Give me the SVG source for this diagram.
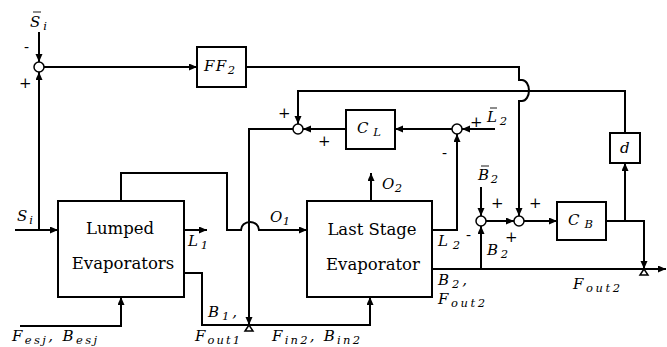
<svg xmlns="http://www.w3.org/2000/svg" width="667" height="347" viewBox="0 0 667 347" font-family="'DejaVu Serif','Liberation Serif',serif">
<defs>
<style>
.ln{fill:none;stroke:#000;stroke-width:2}
.bx{fill:#fff;stroke:#000;stroke-width:2}
.sj{fill:#fff;stroke:#000;stroke-width:1.5}
.vl{fill:#fff;stroke:#000;stroke-width:1.5}
.br{stroke:#000;stroke-width:0.9}
text{font-family:'DejaVu Serif','Liberation Serif',serif;fill:#000}
.m{font-style:italic;font-size:15px}
.s{font-size:11.5px}
.t{font-size:16.5px;text-anchor:middle}
.p{font-size:15px}
</style>
<marker id="ar" markerUnits="userSpaceOnUse" markerWidth="9" markerHeight="8" refX="8" refY="3.5" orient="auto">
<path d="M0,0 L8,3.5 L0,7 z" fill="#000"/>
</marker>
</defs>
<g id="connectors">
<path class="ln" d="M39,32 V62" marker-end="url(#ar)"/>
<path class="ln" d="M15,230 H58" marker-end="url(#ar)"/>
<path class="ln" d="M39,230 V72" marker-end="url(#ar)"/>
<path class="ln" d="M44,67 H197" marker-end="url(#ar)"/>
<path class="ln" d="M246,67 H519 V80 H522 A7 10.5 0 0 1 522 101 H519 V216" marker-end="url(#ar)"/>
<path class="ln" d="M625,133 V91 H298 V124" marker-end="url(#ar)"/>
<path class="ln" d="M625,221 V163" marker-end="url(#ar)"/>
<path class="ln" d="M495,129 H462" marker-end="url(#ar)"/>
<path class="ln" d="M452,129 H395" marker-end="url(#ar)"/>
<path class="ln" d="M346,129 H303" marker-end="url(#ar)"/>
<path class="ln" d="M293,129 H249 V325" marker-end="url(#ar)"/>
<path class="ln" d="M432,230 H457 V134" marker-end="url(#ar)"/>
<path class="ln" d="M481,187 V216" marker-end="url(#ar)"/>
<path class="ln" d="M486,221 H514" marker-end="url(#ar)"/>
<path class="ln" d="M524,221 H557" marker-end="url(#ar)"/>
<path class="ln" d="M606,221 H644 V269" marker-end="url(#ar)"/>
<path class="ln" d="M432,269 H666" marker-end="url(#ar)"/>
<path class="ln" d="M481,269 V226" marker-end="url(#ar)"/>
<path class="ln" d="M121,201 V173 H227 V230 H241 A9 8 0 0 1 259 230 H307" marker-end="url(#ar)"/>
<path class="ln" d="M184,230 H207" marker-end="url(#ar)"/>
<path class="ln" d="M184,273 H202 V325 H370 V297" marker-end="url(#ar)"/>
<path class="ln" d="M20,326 H121 V297" marker-end="url(#ar)"/>
<path class="ln" d="M371,201 V173" marker-end="url(#ar)"/>
</g>
<g id="sum1"><circle class="sj" cx="39" cy="67" r="5"/></g>
<g id="sumL"><circle class="sj" cx="298" cy="129" r="5"/></g>
<g id="sumL2"><circle class="sj" cx="457" cy="129" r="5"/></g>
<g id="sumB2"><circle class="sj" cx="481" cy="221" r="5"/></g>
<g id="sumB"><circle class="sj" cx="519" cy="221" r="5"/></g>
<g id="valve1"><path class="vl" d="M249,325 L245,331 H253 Z"/></g>
<g id="valve2"><path class="vl" d="M644,269 L640,275 H648 Z"/></g>
<g id="FF2"><rect class="bx" x="197" y="47" width="49" height="40"/><text class="m" x="204" y="71" textLength="31" lengthAdjust="spacing">FF<tspan class="s" dy="3">2</tspan></text></g>
<g id="CL"><rect class="bx" x="346" y="110" width="49" height="39"/><text class="m" x="357" y="133" textLength="24" lengthAdjust="spacing">C<tspan class="s" dy="3">L</tspan></text></g>
<g id="CB"><rect class="bx" x="557" y="202" width="49" height="38"/><text class="m" x="568" y="225" textLength="25" lengthAdjust="spacing">C<tspan class="s" dy="3">B</tspan></text></g>
<g id="d"><rect class="bx" x="610" y="133" width="30" height="30"/><text class="m" x="620" y="153">d</text></g>
<g id="lumped"><rect class="bx" x="58" y="201" width="126" height="96"/><text class="t" x="120" y="234">Lumped</text><text class="t" x="123" y="269">Evaporators</text></g>
<g id="last"><rect class="bx" x="307" y="201" width="125" height="96"/><text class="t" x="372" y="235">Last Stage</text><text class="t" x="373" y="270">Evaporator</text></g>
<g id="labels">
<text class="m" x="30" y="27" textLength="17" lengthAdjust="spacing">S<tspan class="s" dy="3">i</tspan></text>
<line class="br" x1="33" y1="12" x2="41" y2="12"/>
<text class="p" x="24" y="52">-</text>
<text class="p" x="19" y="88">+</text>
<text class="m" x="17" y="221" textLength="16" lengthAdjust="spacing">S<tspan class="s" dy="3">i</tspan></text>
<text class="m" x="188" y="246" textLength="20" lengthAdjust="spacing">L<tspan class="s" dy="3">1</tspan></text>
<text class="m" x="270" y="222" textLength="20" lengthAdjust="spacing">O<tspan class="s" dy="3">1</tspan></text>
<text class="m" x="382" y="189" textLength="20" lengthAdjust="spacing">O<tspan class="s" dy="3">2</tspan></text>
<text class="m" x="438" y="246" textLength="22" lengthAdjust="spacing">L<tspan class="s" dy="3">2</tspan></text>
<text class="m" x="438" y="285" textLength="29" lengthAdjust="spacing">B<tspan class="s" dy="3">2</tspan><tspan dy="-3">,</tspan></text>
<text class="m" x="438" y="304" textLength="47" lengthAdjust="spacing">F<tspan class="s" dy="3">out2</tspan></text>
<text class="m" x="573" y="289" textLength="47" lengthAdjust="spacing">F<tspan class="s" dy="3">out2</tspan></text>
<text class="m" x="487" y="255" textLength="21" lengthAdjust="spacing">B<tspan class="s" dy="3">2</tspan></text>
<text class="p" x="466" y="240">-</text>
<text class="p" x="505" y="242">+</text>
<text class="m" x="478" y="180" textLength="20" lengthAdjust="spacing">B<tspan class="s" dy="3">2</tspan></text>
<line class="br" x1="481" y1="166" x2="489" y2="166"/>
<text class="p" x="491" y="208">+</text>
<text class="p" x="529" y="208">+</text>
<text class="p" x="470" y="127">+</text>
<text class="m" x="487" y="122" textLength="20" lengthAdjust="spacing">L<tspan class="s" dy="3">2</tspan></text>
<line class="br" x1="490" y1="108" x2="497" y2="108"/>
<text class="p" x="442" y="158">-</text>
<text class="p" x="278" y="118">+</text>
<text class="p" x="318" y="146">+</text>
<text class="m" x="208" y="317" textLength="29" lengthAdjust="spacing">B<tspan class="s" dy="3">1</tspan><tspan dy="-3">,</tspan></text>
<text class="m" x="195" y="341" textLength="45" lengthAdjust="spacing">F<tspan class="s" dy="3">out1</tspan></text>
<text class="m" x="12" y="341" textLength="85" lengthAdjust="spacing">F<tspan class="s" dy="3">esj</tspan><tspan dy="-3">, B</tspan><tspan class="s" dy="3">esj</tspan></text>
<text class="m" x="272" y="341" textLength="88" lengthAdjust="spacing">F<tspan class="s" dy="3">in2</tspan><tspan dy="-3">, B</tspan><tspan class="s" dy="3">in2</tspan></text>
</g>
</svg>
